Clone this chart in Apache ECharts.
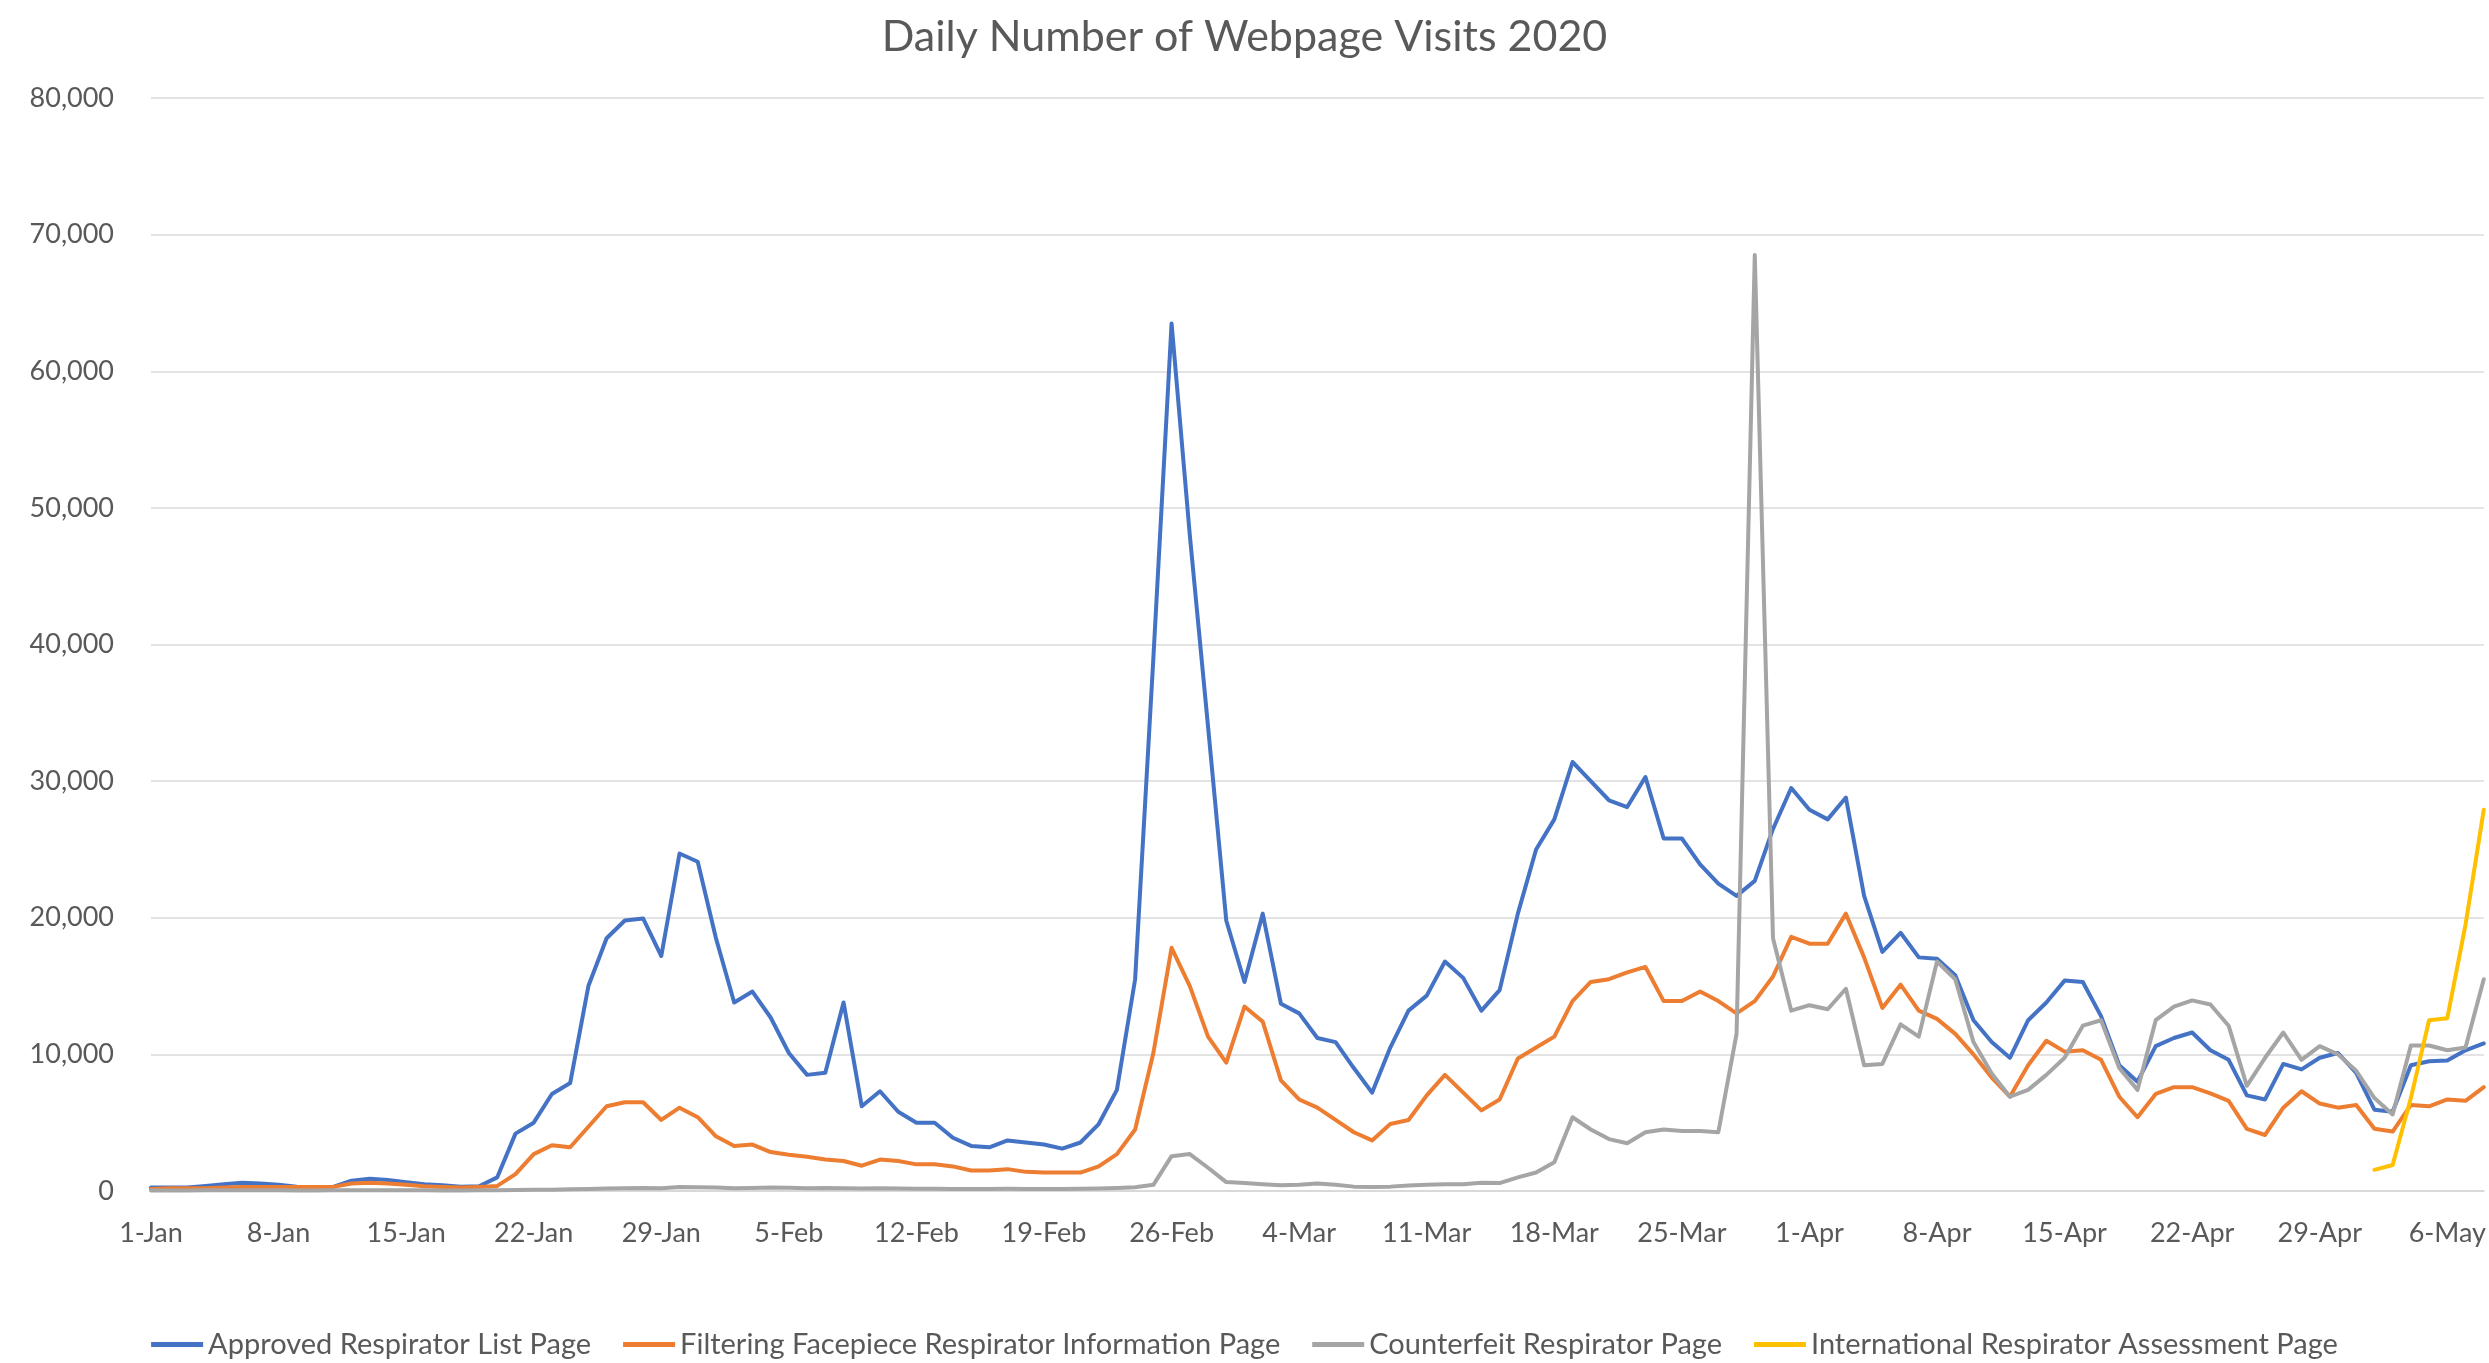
<!DOCTYPE html>
<html>
<head>
<meta charset="utf-8">
<title>Daily Number of Webpage Visits 2020</title>
<script src="https://cdn.jsdelivr.net/npm/echarts@6/dist/echarts.min.js"></script>
<style>
  html, body { margin: 0; padding: 0; background: #ffffff; }
  #chart { width: 2489px; height: 1363px; }
</style>
</head>
<body>
<div id="chart"></div>
<script>
// x axis: one category per day, 1-Jan .. 8-May 2020
const monthNames = ['Jan', 'Feb', 'Mar', 'Apr', 'May'];
const monthDays = [31, 29, 31, 30, 8];
const dayLabels = [];
for (let m = 0; m < monthNames.length; m++) {
  for (let d = 1; d <= monthDays[m]; d++) {
    dayLabels.push(d + '-' + monthNames[m]);
  }
}

const seriesNames = [
  'Approved Respirator List Page',
  'Filtering Facepiece Respirator Information Page',
  'Counterfeit Respirator Page',
  'International Respirator Assessment Page'
];

const lineColors = ['#4472C4', '#ED7D31', '#A5A5A5', '#FFC000'];

// values, one per day
const approvedList = [
  250, 250, 250, 370, 500, 600, 550, 450, 320, 300,
  300, 750, 900, 800, 650, 500, 420, 320, 350, 1000,
  4200, 5000, 7100, 7900, 15000, 18500, 19800, 19950, 17200, 24700,
  24100, 18500, 13800, 14600, 12700, 10100, 8500, 8650, 13800, 6200,
  7300, 5800, 5000, 5000, 3900, 3300, 3200, 3700, 3550, 3400,
  3100, 3550, 4900, 7400, 15500, 39000, 63500, 48000, 34000, 19800,
  15300, 20300, 13700, 13000, 11200, 10900, 9000, 7200, 10500, 13200,
  14300, 16800, 15600, 13200, 14700, 20300, 25000, 27200, 31400, 30000,
  28600, 28100, 30300, 25800, 25800, 23900, 22500, 21600, 22700, 26500,
  29500, 27900, 27200, 28800, 21600, 17500, 18900, 17100, 17000, 15800,
  12500, 10900, 9750, 12500, 13800, 15400, 15300, 12800, 9200, 8000,
  10600, 11200, 11600, 10300, 9600, 7000, 6700, 9300, 8900, 9750,
  10100, 8650, 5950, 5800, 9200, 9500, 9550, 10300, 10800
];

const filteringFacepiece = [
  150, 200, 200, 200, 250, 300, 300, 300, 300, 300,
  300, 550, 600, 550, 450, 350, 300, 250, 300, 370,
  1240, 2700, 3350, 3200, 4700, 6200, 6500, 6500, 5200, 6100,
  5400, 4000, 3300, 3400, 2850, 2650, 2500, 2300, 2200, 1850,
  2300, 2200, 1950, 1950, 1800, 1500, 1500, 1600, 1400, 1350,
  1350, 1350, 1800, 2700, 4500, 10100, 17800, 15000, 11300, 9400,
  13500, 12400, 8100, 6700, 6100, 5200, 4300, 3700, 4900, 5200,
  7000, 8500, 7200, 5900, 6700, 9700, 10500, 11300, 13900, 15300,
  15500, 16000, 16400, 13900, 13900, 14600, 13900, 13000, 13900, 15700,
  18600, 18100, 18100, 20300, 17100, 13400, 15100, 13200, 12600, 11500,
  10000, 8300, 6900, 9200, 11000, 10200, 10300, 9600, 6900, 5400,
  7100, 7600, 7600, 7150, 6600, 4550, 4100, 6100, 7300, 6400,
  6100, 6300, 4550, 4350, 6300, 6200, 6700, 6600, 7600
];

const counterfeit = [
  30, 40, 40, 50, 50, 60, 50, 50, 40, 40,
  50, 60, 60, 60, 50, 50, 40, 40, 50, 60,
  80, 100, 100, 120, 150, 180, 200, 220, 200, 300,
  280, 250, 200, 220, 250, 230, 200, 220, 200, 180,
  200, 190, 170, 160, 150, 140, 150, 160, 150, 140,
  150, 160, 180, 220, 280, 450, 2550, 2700, 1700, 650,
  580, 500, 420, 450, 550, 450, 320, 300, 320, 400,
  450, 500, 500, 600, 580, 1000, 1350, 2100, 5400, 4500,
  3800, 3500, 4300, 4500, 4400, 4400, 4300, 11500, 68500, 18500,
  13200, 13600, 13300, 14800, 9200, 9300, 12200, 11300, 16800, 15500,
  10900, 8600, 6900, 7400, 8500, 9750, 12100, 12500, 9000, 7400,
  12500, 13500, 13950, 13650, 12100, 7700, 9750, 11600, 9600, 10600,
  10000, 8800, 6800, 5600, 10650, 10650, 10300, 10500, 15500
];

// the assessment page only starts on 2-May
const internationalAssessment = dayLabels.map(function () { return null; });
const assessmentFrom2May = [1550, 1900, 6800, 12500, 12650, 19500, 27900];
for (let i = 0; i < assessmentFrom2May.length; i++) {
  internationalAssessment[dayLabels.indexOf('2-May') + i] = assessmentFrom2May[i];
}

const yTicks = { min: 0, max: 80000, interval: 10000 };

const chart = echarts.init(document.getElementById('chart'));

const fontFamily = 'Lato, "Liberation Sans", sans-serif';
const seriesData = [approvedList, filteringFacepiece, counterfeit, internationalAssessment];

let option = {
  animation: false,
  backgroundColor: '#ffffff',
  textStyle: { fontFamily: fontFamily },
  title: {
    text: 'Daily Number of Webpage Visits 2020',
    left: 'center',
    top: 11,
    textStyle: { color: '#595959', fontSize: 43, fontWeight: 'normal', fontFamily: fontFamily }
  },
  legend: {
    data: seriesNames,
    left: 'center',
    top: 1325,
    icon: 'rect',
    itemWidth: 52,
    itemHeight: 5,
    itemGap: 32,
    textStyle: { color: '#595959', fontSize: 29, fontFamily: fontFamily }
  },
  grid: {
    left: 151,
    right: 3,
    top: 98,
    bottom: 172,
    containLabel: false
  },
  xAxis: {
    type: 'category',
    data: dayLabels,
    boundaryGap: false,
    axisLine: { show: true, lineStyle: { color: '#d9d9d9', width: 2 } },
    axisTick: { show: false },
    axisLabel: {
      interval: 6,
      margin: 29,
      color: '#595959',
      fontSize: 27,
      fontFamily: fontFamily
    },
    splitLine: { show: false }
  },
  yAxis: {
    type: 'value',
    min: yTicks.min,
    max: yTicks.max,
    interval: yTicks.interval,
    axisLine: { show: false },
    axisTick: { show: false },
    axisLabel: {
      margin: 37,
      color: '#595959',
      fontSize: 27,
      fontFamily: fontFamily,
      formatter: function (v) { return v.toLocaleString('en-US'); }
    },
    splitLine: { lineStyle: { color: '#e3e3e3', width: 2 } }
  },
  series: seriesNames.map(function (name, i) {
    return {
      name: name,
      type: 'line',
      data: seriesData[i],
      showSymbol: false,
      symbol: 'none',
      connectNulls: false,
      color: lineColors[i],
      lineStyle: { color: lineColors[i], width: 4, cap: 'round', join: 'round' }
    };
  })
};

chart.setOption(option);
</script>
</body>
</html>
